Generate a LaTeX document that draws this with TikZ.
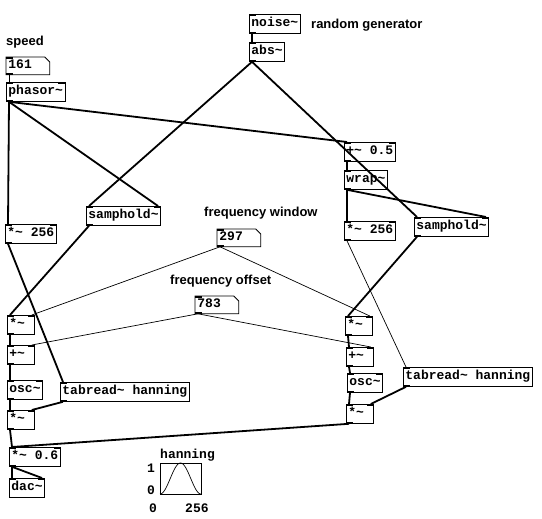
\documentclass[tikz,border=0pt]{standalone}
\usepackage{fontspec}
\setmonofont{Liberation Mono}
\setsansfont{Liberation Sans}
\usetikzlibrary{positioning,calc}
\newcommand{\pdt}{\textasciitilde}

\begin{document}
\begin{tikzpicture}[x=1pt,y=-1pt,
	obj/.style={draw,line width=0.8pt,anchor=north west,inner xsep=2pt,inner ysep=0pt,minimum height=19pt,text height=9pt,text depth=3pt,font=\ttfamily\bfseries\fontsize{13pt}{13pt}\selectfont},
	numbox/.style={obj,draw=none,text width=39pt,align=left,minimum height=17pt},
	narrow/.style={text width=23pt,align=left},
	label/.style={anchor=base west,inner sep=0pt,font=\sffamily\bfseries\fontsize{13pt}{13pt}\selectfont},
	mono/.style={anchor=base west,inner sep=0pt,font=\ttfamily\bfseries\fontsize{13pt}{13pt}\selectfont},
	sig/.style={line width=1.8pt},
	ctl/.style={line width=0.7pt}]
	\path[use as bounding box,fill=white] (0,0) rectangle (542,519);

	% comments
	\node[label] (speed) at (6,46) {speed};
	\node[label] (rnd) at (311,29) {random generator};
	\node[label] (fwin) at (204,217) {frequency window};
	\node[label] (foff) at (170,284) {frequency offset};

	% boxes
	\node[numbox] (n161) at (6,57) {161};
	\node[obj] (phasor) at (6,82) {phasor\pdt};
	\node[obj] (noise) at (249,14) {noise\pdt};
	\node[obj] (abs) at (249,42) {abs\pdt};
	\node[obj] (mulA) at (5,224) {*\pdt{} 256};
	\node[obj] (shA) at (86,206) {samphold\pdt};
	\node[numbox] (n297) at (217,229) {297};
	\node[obj] (add05) at (344,142) {+\pdt{} 0.5};
	\node[obj] (wrap) at (344,170) {wrap\pdt};
	\node[obj] (mulB) at (344,221) {*\pdt{} 256};
	\node[obj] (shB) at (414,217) {samphold\pdt};
	\node[numbox] (n783) at (195,296) {783};
	\node[obj,narrow] (timesL) at (7,315) {*\pdt};
	\node[obj,narrow] (plusL) at (7,345) {+\pdt};
	\node[obj] (oscL) at (7,380) {osc\pdt};
	\node[obj] (tabA) at (60,382) {tabread\pdt{} hanning};
	\node[obj,narrow] (outL) at (7,410) {*\pdt};
	\node[obj] (gain) at (9,447) {*\pdt{} 0.6};
	\node[obj] (dac) at (9,478) {dac\pdt};
	\node[obj,narrow] (timesR) at (345,316) {*\pdt};
	\node[obj,narrow] (plusR) at (346,347) {+\pdt};
	\node[obj] (oscR) at (347,373) {osc\pdt};
	\node[obj] (tabB) at (403,367) {tabread\pdt{} hanning};
	\node[obj,narrow] (outR) at (346,404) {*\pdt};

	\foreach \n in {n161,n297,n783}
		\draw[line width=0.8pt] (\n.north west) -- ([xshift=-5pt]\n.north east) -- ([yshift=-5pt]\n.north east) -- (\n.south east) -- (\n.south west) -- cycle;

	% inlets and outlets
	\foreach \n in {n161,phasor,noise,abs,mulA,shA,n297,add05,wrap,mulB,shB,n783,timesL,plusL,oscL,tabA,outL,gain,dac,timesR,plusR,oscR,tabB,outR}{
		\coordinate (\n-i) at ([xshift=3pt]\n.north west);
		\coordinate (\n-o) at ([xshift=3pt]\n.south west);
		\fill (\n.north west) rectangle ([xshift=7pt,yshift=-2pt]\n.north west);
	}
	\foreach \n in {n161,phasor,noise,abs,mulA,shA,n297,add05,wrap,mulB,shB,n783,timesL,plusL,oscL,tabA,outL,gain,timesR,plusR,oscR,tabB,outR}
		\fill (\n.south west) rectangle ([xshift=7pt,yshift=2pt]\n.south west);
	\foreach \n in {phasor,mulA,shA,add05,mulB,shB,timesL,plusL,oscL,outL,gain,dac,timesR,plusR,oscR,outR}{
		\coordinate (\n-r) at ([xshift=-3pt]\n.north east);
		\fill (\n.north east) rectangle ([xshift=-7pt,yshift=-2pt]\n.north east);
	}

	% connections
	\draw[ctl] (n161-o) -- (phasor-i);
	\draw[sig] (noise-o) -- (abs-i);
	\draw[sig] (phasor-o) -- (mulA-i);
	\draw[sig] (phasor-o) -- (shA-r);
	\draw[sig] (phasor-o) -- (add05-i);
	\draw[sig] (abs-o) -- (shA-i);
	\draw[sig] (abs-o) -- (shB-i);
	\draw[sig] (add05-o) -- (wrap-i);
	\draw[sig] (wrap-o) -- (mulB-i);
	\draw[sig] (wrap-o) -- (shB-r);
	\draw[sig] (mulA-o) -- (tabA-i);
	\draw[ctl] (mulB-o) -- (tabB-i);
	\draw[sig] (shA-o) -- (timesL-i);
	\draw[sig] (shB-o) -- (timesR-i);
	\draw[ctl] (n297-o) -- (timesL-r);
	\draw[ctl] (n297-o) -- (timesR-r);
	\draw[ctl] (n783-o) -- (plusL-r);
	\draw[ctl] (n783-o) -- (plusR-r);
	\draw[sig] (timesL-o) -- (plusL-i);
	\draw[sig] (plusL-o) -- (oscL-i);
	\draw[sig] (oscL-o) -- (outL-i);
	\draw[sig] (tabA-o) -- (outL-r);
	\draw[sig] (timesR-o) -- (plusR-i);
	\draw[sig] (plusR-o) -- (oscR-i);
	\draw[sig] (oscR-o) -- (outR-i);
	\draw[sig] (tabB-o) -- (outR-r);
	\draw[sig] (outL-o) -- (gain-i);
	\draw[sig] (outR-o) -- (gain-i);
	\draw[sig] (gain-o) -- (dac-i);
	\draw[sig] (gain-o) -- (dac-r);

	% table graph
	\node[mono] (tname) at (160,458) {hanning};
	\node[draw,line width=0.8pt,anchor=north west,minimum width=41pt,minimum height=31pt,inner sep=0pt] (graph) at (160,463) {};
	\draw[line width=0.7pt] plot[domain=0:1,samples=41,variable=\t] ({160+41*\t},{494-31*(0.5-0.5*cos(360*\t))});
	\node[mono] (ymax) at (147,472) {1};
	\node[mono] (ymin) at (147,494) {0};
	\node[mono] (xmin) at (149,512) {0};
	\node[mono] (xmax) at (185,512) {256};
\end{tikzpicture}
\end{document}
